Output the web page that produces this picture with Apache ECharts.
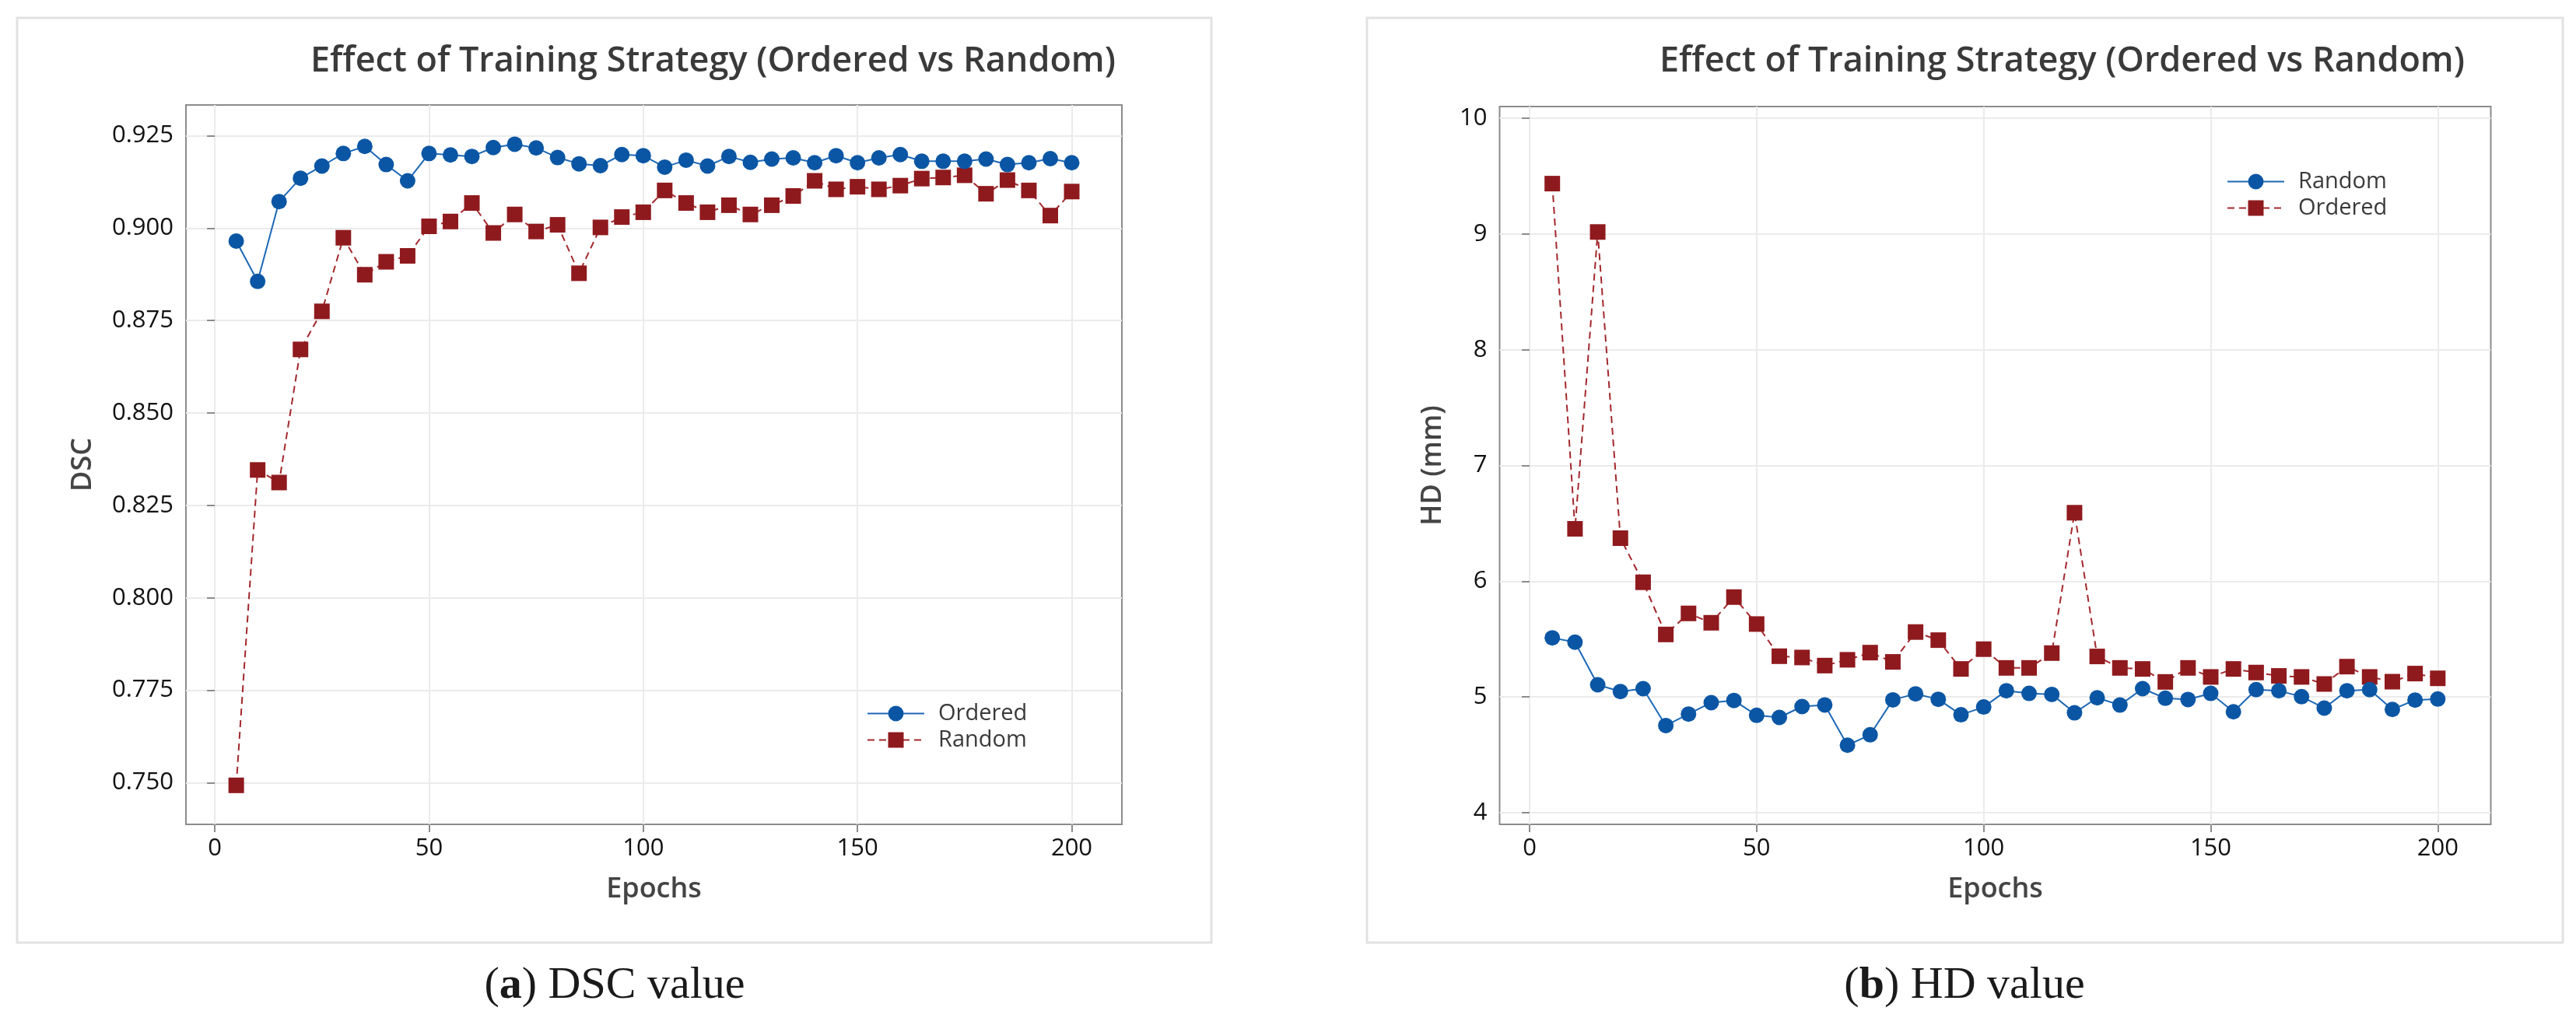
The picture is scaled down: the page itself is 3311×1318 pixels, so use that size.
<!DOCTYPE html>
<html>
<head>
<meta charset="utf-8">
<title>Effect of Training Strategy</title>
<script src="https://cdn.jsdelivr.net/npm/echarts@6/dist/echarts.min.js"></script>
<style>
  html, body { margin: 0; padding: 0; background: #fff; }
  #main { width: 3311px; height: 1318px; }
</style>
</head>
<body>
<div id="main"></div>
<script>
// x values (epochs) shared by both plots
var epochs = [5, 10, 15, 20, 25, 30, 35, 40, 45, 50, 55, 60, 65, 70, 75, 80, 85, 90, 95, 100,
  105, 110, 115, 120, 125, 130, 135, 140, 145, 150, 155, 160, 165, 170, 175, 180, 185, 190, 195, 200]

// (a) DSC value
var dscOrdered = [0.8965, 0.8856, 0.9072, 0.9135, 0.9168, 0.9202, 0.9221, 0.9172, 0.9128, 0.9202,
  0.9198, 0.9194, 0.9218, 0.9227, 0.9217, 0.9191, 0.9174, 0.9169, 0.9199, 0.9196,
  0.9165, 0.9184, 0.9168, 0.9194, 0.9178, 0.9187, 0.9190, 0.9177, 0.9196, 0.9177,
  0.9190, 0.9199, 0.9181, 0.9181, 0.9181, 0.9187, 0.9172, 0.9177, 0.9188, 0.9177]
var dscRandom = [0.7493, 0.8346, 0.8312, 0.8672, 0.8775, 0.8974, 0.8874, 0.8909, 0.8925, 0.9005,
  0.9018, 0.9068, 0.8987, 0.9037, 0.8991, 0.9009, 0.8878, 0.9002, 0.9030, 0.9043,
  0.9102, 0.9068, 0.9043, 0.9062, 0.9037, 0.9062, 0.9087, 0.9128, 0.9105, 0.9112,
  0.9105, 0.9115, 0.9134, 0.9137, 0.9143, 0.9093, 0.9130, 0.9102, 0.9034, 0.9099]

// (b) HD value
var hdRandom = [5.511, 5.473, 5.105, 5.047, 5.072, 4.753, 4.852, 4.951, 4.970, 4.841,
  4.823, 4.917, 4.931, 4.583, 4.673, 4.975, 5.027, 4.980, 4.846, 4.913,
  5.054, 5.031, 5.022, 4.863, 4.993, 4.930, 5.072, 4.989, 4.978, 5.031,
  4.872, 5.063, 5.054, 5.002, 4.904, 5.054, 5.063, 4.892, 4.973, 4.982]
var hdOrdered = [9.436, 6.453, 9.018, 6.372, 5.991, 5.540, 5.722, 5.641, 5.863, 5.630,
  5.352, 5.341, 5.271, 5.321, 5.383, 5.303, 5.561, 5.491, 5.242, 5.413,
  5.251, 5.251, 5.379, 6.592, 5.350, 5.251, 5.242, 5.130, 5.251, 5.173,
  5.242, 5.211, 5.182, 5.173, 5.112, 5.262, 5.173, 5.132, 5.202, 5.161]

// tick labels
var xTicks = [0, 50, 100, 150, 200]
var dscTicks = ['0.750', '0.775', '0.800', '0.825', '0.850', '0.875', '0.900', '0.925']
var hdTicks = ['4', '5', '6', '7', '8', '9', '10']

var titleText = 'Effect of Training Strategy (Ordered vs Random)'
var BLUE = '#0b56a4', BLUE_LINE = '#1c68b6'
var RED = '#8f1a1e', RED_LINE = '#a3282c'
var GRID_LINE = '#ebebeb', FRAME = '#8c8c8c'
var SANS = '"Open Sans", "Noto Sans", sans-serif'
var SERIF = '"Liberation Serif", serif'

function pairs(ys) {
  return epochs.map(function (x, i) { return [x, ys[i]] })
}

// each plot uses 3 grids: D = data (full plot box), H = horizontal grid + y labels, V = vertical grid + x labels
function hiddenAxis(grid, min, max) {
  return { type: 'value', gridIndex: grid, min: min, max: max, show: false }
}
function nameAxis(grid, min, max, name, gap) {
  return {
    type: 'value', gridIndex: grid, min: min, max: max,
    axisLine: { show: false }, axisTick: { show: false }, axisLabel: { show: false }, splitLine: { show: false },
    name: name, nameLocation: 'middle', nameGap: gap,
    nameTextStyle: { fontFamily: SANS, fontSize: 36, fontWeight: 600, color: '#444' }
  }
}
function tickAxis(grid, min, max, interval, fmt) {
  return {
    type: 'value', gridIndex: grid, min: min, max: max, interval: interval,
    axisLine: { show: false },
    axisTick: { show: true, length: 10, lineStyle: { color: FRAME, width: 2 } },
    axisLabel: { fontFamily: SANS, fontSize: 31, color: '#111', margin: 16, formatter: fmt },
    splitLine: { show: true, lineStyle: { color: GRID_LINE, width: 2 } }
  }
}
function lineSeries(name, data, x, y, solid) {
  return {
    name: name, type: 'line', xAxisIndex: x, yAxisIndex: y, data: data,
    symbol: solid ? 'circle' : 'rect', symbolSize: 20, clip: false,
    lineStyle: solid ? { color: BLUE_LINE, width: 2 } : { color: RED_LINE, width: 2, type: [9, 6] },
    itemStyle: { color: solid ? BLUE : RED },
    emphasis: { disabled: true }, z: solid ? 3 : 2
  }
}
function legendAt(left, top, names) {
  return {
    data: names, orient: 'vertical', left: left, top: top,
    itemWidth: 73, itemHeight: 25, itemGap: 5, selectedMode: false,
    textStyle: { fontFamily: SANS, fontSize: 29, color: '#3a3a3a', padding: [0, 0, 0, 13] },
    formatter: function (n) { return n.split(' ')[1] }
  }
}
function caption(x, letter, rest) {
  return {
    type: 'text', x: x, y: 1268, silent: true,
    style: {
      text: '{p|(}{b|' + letter + '}{p|) ' + rest + '}', align: 'center', verticalAlign: 'middle',
      rich: {
        p: { fontFamily: SERIF, fontSize: 58, fill: '#1a1a1a' },
        b: { fontFamily: SERIF, fontSize: 58, fontWeight: 'bold', fill: '#1a1a1a' }
      }
    }
  }
}

var myChart = echarts.init(document.getElementById('main'))
myChart.setOption({
  backgroundColor: '#fff',
  animation: false,
  title: [
    { text: titleText, left: 394, top: 52, textStyle: { fontFamily: SANS, fontWeight: 600, fontSize: 45, color: '#3a3a3a' } },
    { text: titleText, left: 2128, top: 52, textStyle: { fontFamily: SANS, fontWeight: 600, fontSize: 45, color: '#3a3a3a' } }
  ],
  legend: [
    legendAt(1109, 898, ['DSC Ordered', 'DSC Random']),
    legendAt(2857, 214, ['HD Random', 'HD Ordered'])
  ],
  grid: [
    { left: 239, top: 135, width: 1203, height: 925, show: true, borderColor: FRAME, borderWidth: 2, backgroundColor: 'transparent' },
    { left: 239, top: 174.5, width: 1203, height: 832 },
    { left: 276.1, top: 135, width: 1101.4, height: 925 },
    { left: 1927.5, top: 137, width: 1274, height: 923, show: true, borderColor: FRAME, borderWidth: 2, backgroundColor: 'transparent' },
    { left: 1927.5, top: 152.2, width: 1274, height: 892.8 },
    { left: 1966, top: 137, width: 1167.3, height: 923 }
  ],
  xAxis: [
    hiddenAxis(0, -6.737, 211.71),
    nameAxis(1, -6.737, 211.71, 'Epochs', 119),
    tickAxis(2, xTicks[0], xTicks[xTicks.length - 1], 50),
    hiddenAxis(3, -6.6, 211.68),
    nameAxis(4, -6.6, 211.68, 'Epochs', 81),
    tickAxis(5, xTicks[0], xTicks[xTicks.length - 1], 50)
  ],
  yAxis: [
    hiddenAxis(0, 0.73875, 0.93331),
    tickAxis(1, +dscTicks[0], +dscTicks[dscTicks.length - 1], 0.025, function (v) { return v.toFixed(3) }),
    nameAxis(2, 0, 1, 'DSC', 151),
    hiddenAxis(3, 3.899, 10.102),
    tickAxis(4, +hdTicks[0], +hdTicks[hdTicks.length - 1], 1),
    nameAxis(5, 0, 1, 'HD (mm)', 106)
  ],
  series: [
    lineSeries('DSC Ordered', pairs(dscOrdered), 0, 0, true),
    lineSeries('DSC Random', pairs(dscRandom), 0, 0, false),
    lineSeries('HD Random', pairs(hdRandom), 3, 3, true),
    lineSeries('HD Ordered', pairs(hdOrdered), 3, 3, false)
  ],
  graphic: [
    // light panel frames around each figure
    { type: 'rect', shape: { x: 22, y: 23, width: 1535, height: 1189 }, style: { fill: 'none', stroke: '#e2e2e2', lineWidth: 3 }, silent: true },
    { type: 'rect', shape: { x: 1757, y: 23, width: 1537, height: 1189 }, style: { fill: 'none', stroke: '#e2e2e2', lineWidth: 3 }, silent: true },
    // sub-figure captions
    caption(790, 'a', 'DSC value'),
    caption(2525, 'b', 'HD value')
  ]
})
</script>
</body>
</html>
